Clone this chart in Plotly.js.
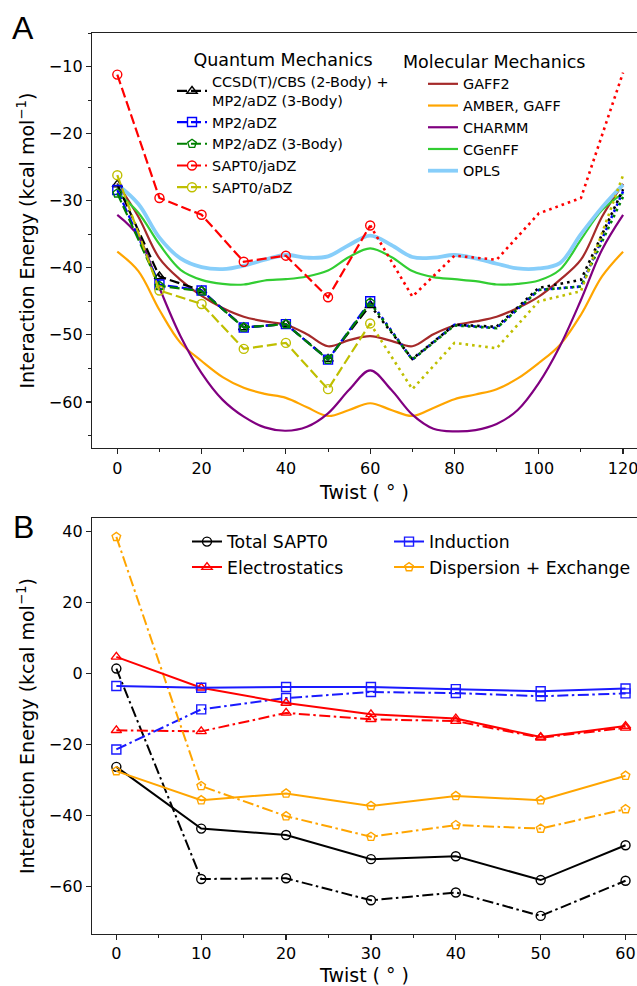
<!DOCTYPE html>
<html>
<head>
<meta charset="utf-8">
<script src="https://cdn.plot.ly/plotly-3.0.1.min.js"></script>
<style>html,body{margin:0;padding:0;background:#fff;}#chart{width:637px;height:986px;}</style>
</head>
<body>
<div id="chart"></div>
<script>
// ---------- Panel A : quantum mechanics (twist 0..120 every 10 deg) ----------
const twistQM = [0, 10, 20, 30, 40, 50, 60, 70, 80, 90, 100, 110, 120];
const ccsdCBS  = [-27.6, -41.3, -43.4, -48.9, -48.4, -53.6, -45.6, -53.6, -48.5, -48.8, -43.0, -41.8, -28.3];
const mp2aDZ   = [-28.4, -42.5, -43.4, -48.9, -48.4, -53.7, -45.0, -53.7, -48.5, -49.0, -43.3, -42.8, -28.6];
const mp2aDZ3B = [-28.9, -42.7, -43.5, -48.9, -48.4, -53.7, -45.2, -53.7, -48.6, -49.0, -43.3, -42.8, -29.4];
const sapt0jaDZ = [-11.2, -29.6, -32.1, -39.1, -38.2, -44.4, -33.7, -44.3, -38.2, -38.8, -31.9, -29.6, -10.9];
const sapt0aDZ  = [-26.2, -43.4, -45.4, -52.1, -51.2, -58.1, -48.3, -58.1, -51.2, -52.0, -45.0, -43.5, -26.2];

// ---------- Panel A : molecular mechanics (twist 0..120 every 5 deg) ----------
const twistMM = [0, 5, 10, 15, 20, 25, 30, 35, 40, 45, 50, 55, 60, 65, 70, 75, 80, 85, 90, 95, 100, 105, 110, 115, 120];
const gaff2  = [-27.4, -32.4, -38.6, -41.8, -44.2, -46.0, -47.3, -48.0, -48.5, -49.9, -51.7, -50.8, -50.2, -50.9, -51.7, -49.9, -48.6, -48.0, -47.3, -46.0, -44.3, -41.8, -38.8, -32.4, -27.5];
const amberGaff = [-37.6, -40.5, -46.3, -51.2, -53.9, -56.3, -57.9, -58.8, -59.4, -60.8, -62.1, -61.2, -60.2, -61.2, -62.1, -60.9, -59.6, -58.9, -58.1, -56.5, -54.2, -51.5, -47.0, -41.3, -37.6];
const charmm = [-32.1, -35.3, -43.0, -50.2, -55.7, -59.7, -62.2, -63.8, -64.3, -63.7, -61.7, -58.2, -55.3, -58.2, -61.9, -64.0, -64.4, -64.2, -63.3, -61.2, -57.2, -51.7, -44.8, -37.3, -32.1];
const cgenff = [-28.8, -31.8, -36.5, -40.3, -41.8, -42.4, -42.5, -41.9, -41.7, -41.3, -40.4, -38.4, -37.1, -38.4, -40.5, -41.4, -41.7, -42.0, -42.5, -42.4, -41.9, -40.3, -35.8, -31.4, -28.9];
const opls   = [-27.6, -30.5, -35.5, -38.6, -39.9, -40.2, -39.7, -38.8, -38.1, -38.5, -38.3, -36.6, -35.2, -36.6, -38.4, -38.5, -38.1, -38.6, -39.4, -40.1, -40.1, -39.3, -35.0, -31.0, -27.6];

// ---------- Panel B : SAPT0 components (twist 0..60 every 10 deg) ----------
const twistB = [0, 10, 20, 30, 40, 50, 60];
const totalSolid = [-26.3, -43.7, -45.5, -52.3, -51.5, -58.2, -48.4];
const totalDash  = [1.4, -57.9, -57.7, -63.9, -61.7, -68.3, -58.4];
const elstSolid  = [4.7, -4.0, -8.3, -11.5, -12.7, -17.9, -14.8];
const elstDash   = [-16.0, -16.3, -11.1, -12.9, -13.4, -18.1, -15.3];
const indSolid   = [-3.5, -4.0, -3.8, -3.8, -4.4, -5.0, -4.2];
const indDash    = [-21.4, -10.1, -6.9, -5.2, -5.5, -6.4, -5.6];
const dispSolid  = [-27.5, -35.7, -33.8, -37.3, -34.5, -35.7, -28.8];
const dispDash   = [38.5, -31.7, -40.2, -46.0, -42.7, -43.7, -38.2];

const FONT = 'DejaVu Sans, sans-serif';
const traces = [];

// MM curves
const mmSeries = [
  {name: 'GAFF2', y: gaff2, color: '#a52a2a', w: 2.2},
  {name: 'AMBER, GAFF', y: amberGaff, color: '#ffa500', w: 2.2},
  {name: 'CHARMM', y: charmm, color: '#800080', w: 2.2},
  {name: 'CGenFF', y: cgenff, color: '#32cd32', w: 2.2},
  {name: 'OPLS', y: opls, color: '#87cefa', w: 3.8}
];
mmSeries.forEach(s => traces.push({
  x: twistMM, y: s.y, name: s.name, type: 'scatter', mode: 'lines',
  line: {color: s.color, width: s.w, shape: 'spline', smoothing: 1},
  xaxis: 'x', yaxis: 'y', legend: 'legend2'
}));

// QM series
const qmSeries = [
  {name: 'CCSD(T)/CBS (2-Body) +<br>MP2/aDZ (3-Body)', y: ccsdCBS, color: '#000000', sym: 'triangle-up-open'},
  {name: 'MP2/aDZ', y: mp2aDZ, color: '#0000ff', sym: 'square-open'},
  {name: 'MP2/aDZ (3-Body)', y: mp2aDZ3B, color: '#008000', sym: 'pentagon-open'},
  {name: 'SAPT0/jaDZ', y: sapt0jaDZ, color: '#ff0000', sym: 'circle-open'},
  {name: 'SAPT0/aDZ', y: sapt0aDZ, color: '#bfbf00', sym: 'circle-open'}
];
// dotted mirrored halves (60..120) without markers
qmSeries.forEach(s => traces.push({
  x: twistQM.slice(6), y: s.y.slice(6), name: s.name, type: 'scatter', mode: 'lines',
  line: {color: s.color, width: 2.6, dash: '2.6px,4px'},
  xaxis: 'x', yaxis: 'y', legend: 'legend', showlegend: false
}));
// dashed halves (0..60) with markers
qmSeries.forEach(s => traces.push({
  x: twistQM.slice(0, 7), y: s.y.slice(0, 7), name: s.name, type: 'scatter', mode: 'lines+markers',
  line: {color: s.color, width: 2.2, dash: '10px,4px'},
  marker: {symbol: s.sym, size: 9, color: s.color, line: {width: 1.4, color: s.color}},
  xaxis: 'x', yaxis: 'y', legend: 'legend'
}));

// Panel B: two legend columns
const bSeries = [
  {name: 'Total SAPT0', s: totalSolid, d: totalDash, color: '#000000', sym: 'circle-open', lg: 'legend3'},
  {name: 'Electrostatics', s: elstSolid, d: elstDash, color: '#ff0000', sym: 'triangle-up-open', lg: 'legend3'},
  {name: 'Induction', s: indSolid, d: indDash, color: '#1a1aff', sym: 'square-open', lg: 'legend4'},
  {name: 'Dispersion + Exchange', s: dispSolid, d: dispDash, color: '#ffa500', sym: 'pentagon-open', lg: 'legend4'}
];
bSeries.forEach(b => traces.push({
  x: twistB, y: b.d, name: b.name, type: 'scatter', mode: 'lines+markers',
  line: {color: b.color, width: 2, dash: '11px,3.5px,2.5px,3.5px'},
  marker: {symbol: b.sym, size: 9, color: b.color, line: {width: 1.4, color: b.color}},
  xaxis: 'x2', yaxis: 'y2', legend: b.lg, showlegend: false
}));
bSeries.forEach(b => traces.push({
  x: twistB, y: b.s, name: b.name, type: 'scatter', mode: 'lines+markers',
  line: {color: b.color, width: 2},
  marker: {symbol: b.sym, size: 9, color: b.color, line: {width: 1.4, color: b.color}},
  xaxis: 'x2', yaxis: 'y2', legend: b.lg
}));

const axCommon = {
  showline: true, linecolor: '#222', linewidth: 1.2, mirror: false,
  ticks: 'outside', ticklen: 5, tickwidth: 1.2, tickcolor: '#222',
  showgrid: false, zeroline: false, ticklabeloverflow: 'allow',
  tickfont: {family: FONT, size: 16, color: '#000'}
};
const titleFont = {family: FONT, size: 19, color: '#000'};
const legendFontB = {family: FONT, size: 17.3, color: '#000'};

const layout = {
  width: 637, height: 986,
  margin: {l: 92, r: 0, t: 33, b: 52},
  paper_bgcolor: '#fff', plot_bgcolor: '#fff',
  font: {family: FONT, color: '#000'},
  xaxis: Object.assign({}, axCommon, {
    domain: [0, 1], anchor: 'y', range: [-6, 123.3], tick0: 0, dtick: 20, mirror: true,
    minor: {dtick: 10, ticks: 'outside', ticklen: 2.5, tickwidth: 1, tickcolor: '#222', showgrid: false},
    title: {text: 'Twist ( ° )', font: titleFont, standoff: 9}
  }),
  yaxis: Object.assign({}, axCommon, {
    domain: [0.5392, 1], anchor: 'x', range: [-66.9, -5.0], tick0: 0, dtick: 10,
    minor: {dtick: 5, ticks: 'outside', ticklen: 2.5, tickwidth: 1, tickcolor: '#222', showgrid: false},
    title: {text: 'Interaction Energy (kcal mol<sup>−1</sup>)', font: titleFont, standoff: 9}
  }),
  xaxis2: Object.assign({}, axCommon, {
    domain: [0, 1], anchor: 'y2', range: [-2.87, 61.35], tick0: 0, dtick: 10, mirror: true,
    minor: {dtick: 5, ticks: 'outside', ticklen: 2.5, tickwidth: 1, tickcolor: '#222', showgrid: false},
    title: {text: 'Twist ( ° )', font: titleFont, standoff: 9}
  }),
  yaxis2: Object.assign({}, axCommon, {
    domain: [0, 0.4616], anchor: 'x2', range: [-73.4, 43.8], tick0: 0, dtick: 20,
    title: {text: 'Interaction Energy (kcal mol<sup>−1</sup>)', font: titleFont, standoff: 9}
  }),
  legend: {
    x: 0.1468, y: 0.9889, xanchor: 'left', yanchor: 'top',
    bgcolor: 'rgba(0,0,0,0)', borderwidth: 0,
    font: {family: FONT, size: 14.4, color: '#000'},
    title: {text: 'Quantum Mechanics', side: 'top center', font: {family: FONT, size: 17.5, color: '#000'}}
  },
  legend2: {
    x: 0.6073, y: 0.9612, xanchor: 'left', yanchor: 'top',
    bgcolor: 'rgba(0,0,0,0)', borderwidth: 0,
    font: {family: FONT, size: 14.4, color: '#000'}
  },
  legend3: {
    x: 0.1743, y: 0.4552, xanchor: 'left', yanchor: 'top',
    bgcolor: 'rgba(0,0,0,0)', borderwidth: 0, font: legendFontB
  },
  legend4: {
    x: 0.545, y: 0.4552, xanchor: 'left', yanchor: 'top',
    bgcolor: 'rgba(0,0,0,0)', borderwidth: 0, font: legendFontB
  },
  annotations: [
    {text: 'Molecular Mechanics', xref: 'paper', yref: 'paper', x: 0.739, y: 0.9675,
     xanchor: 'center', yanchor: 'middle', showarrow: false,
     font: {family: FONT, size: 17.5, color: '#000'}},
    {text: 'A', xref: 'paper', yref: 'paper', x: -0.1275, y: 1.005,
     xanchor: 'center', yanchor: 'middle', showarrow: false,
     font: {family: 'Liberation Sans, Arial, sans-serif', size: 32, color: '#000'}},
    {text: 'B', xref: 'paper', yref: 'paper', x: -0.1266, y: 0.4519,
     xanchor: 'center', yanchor: 'middle', showarrow: false,
     font: {family: 'Liberation Sans, Arial, sans-serif', size: 32, color: '#000'}}
  ],
  showlegend: true
};

Plotly.newPlot('chart', traces, layout, {displayModeBar: false, staticPlot: true});
</script>
</body>
</html>
